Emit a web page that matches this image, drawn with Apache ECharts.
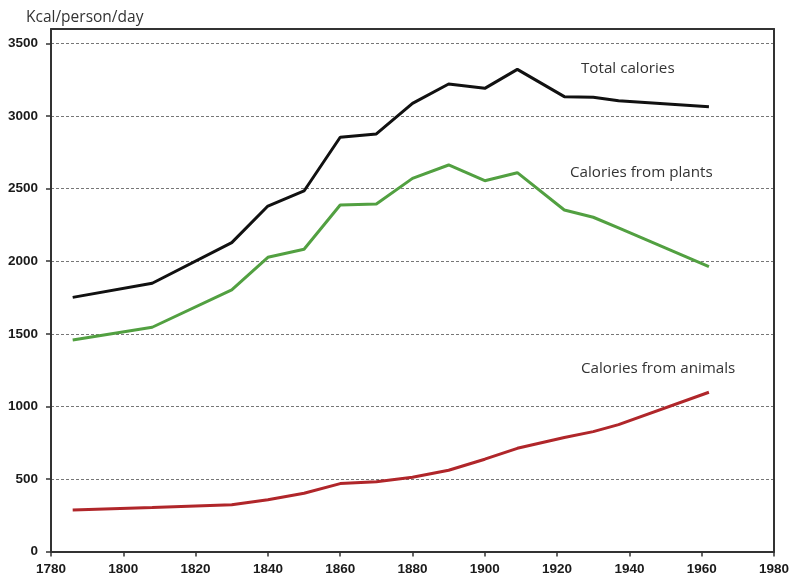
<!DOCTYPE html>
<html>
<head>
<meta charset="utf-8">
<script src="https://cdn.jsdelivr.net/npm/echarts@6/dist/echarts.min.js"></script>
<style>
html,body{margin:0;padding:0;background:#fff;}
#chart{width:795px;height:578px;}
</style>
</head>
<body>
<div id="chart"></div>
<script>
const years   = [1786, 1808, 1830, 1840, 1850, 1860, 1870, 1880, 1890, 1900, 1909, 1922, 1930, 1937, 1962];
const total   = [1751, 1848, 2128, 2380, 2484, 2854, 2877, 3088, 3221, 3191, 3322, 3134, 3129, 3106, 3065];
const plants  = [1457, 1545, 1802, 2027, 2082, 2387, 2394, 2571, 2663, 2555, 2610, 2353, 2303, 2230, 1962];
const animals = [ 286,  303,  322,  356,  401,  468,  481,  511,  560,  636,  711,  785,  826,  874, 1097];
const seriesNames = ['Total calories', 'Calories from plants', 'Calories from animals'];
const yTitle = 'Kcal/person/day';

const pair = arr => years.map((y, i) => [y, arr[i]]);

const chart = echarts.init(document.getElementById('chart'), null, {renderer: 'canvas'});
const labelFont = {fontFamily: 'Liberation Sans, Arial, sans-serif', fontWeight: 'bold', fontSize: 13.5, color: '#1a1a1a'};
const textFont = 'Open Sans, sans-serif';
const plain = v => String(v);

chart.setOption({
  animation: false,
  backgroundColor: '#fff',
  title: {
    text: yTitle, left: 21, top: 5,
    textStyle: {fontFamily: textFont, fontSize: 15.5, fontWeight: 'normal', color: '#333'}
  },
  grid: {left: 51, right: 21, top: 29, bottom: 26.5, containLabel: false},
  xAxis: [{
    type: 'value', min: 1780, max: 1980, interval: 20,
    axisLine: {show: true, lineStyle: {color: '#333', width: 2}},
    axisTick: {show: true, length: 5, lineStyle: {color: '#333', width: 1.5}},
    axisLabel: Object.assign({margin: 11, formatter: plain}, labelFont),
    splitLine: {show: false}
  }, {
    type: 'value', position: 'top', min: 1780, max: 1980, z: 5,
    axisLine: {show: true, onZero: false, lineStyle: {color: '#333', width: 2}},
    axisTick: {show: false}, axisLabel: {show: false}, splitLine: {show: false}
  }],
  yAxis: [{
    type: 'value', min: 0, max: 3600, interval: 500,
    axisLine: {show: true, lineStyle: {color: '#333', width: 2}},
    axisTick: {show: true, length: 5, lineStyle: {color: '#333', width: 1.5}},
    axisLabel: Object.assign({margin: 13, showMaxLabel: false, formatter: plain}, labelFont),
    splitLine: {show: true, lineStyle: {color: '#777', width: 1, type: [3, 2]}}
  }, {
    type: 'value', position: 'right', min: 0, max: 3600, z: 5,
    axisLine: {show: true, onZero: false, lineStyle: {color: '#333', width: 2}},
    axisTick: {show: false}, axisLabel: {show: false}, splitLine: {show: false}
  }],
  series: [{
    name: seriesNames[0], type: 'line', data: pair(total), showSymbol: false,
    lineStyle: {color: '#111', width: 3}, z: 3
  }, {
    name: seriesNames[1], type: 'line', data: pair(plants), showSymbol: false,
    lineStyle: {color: '#52a041', width: 3}, z: 3
  }, {
    name: seriesNames[2], type: 'line', data: pair(animals), showSymbol: false,
    lineStyle: {color: '#b0262a', width: 3}, z: 3
  }],
  graphic: [
    {type: 'text', left: 581, top: 61, style: {text: seriesNames[0], font: '15.2px ' + textFont, fill: '#333'}},
    {type: 'text', left: 570, top: 165, style: {text: seriesNames[1], font: '15.2px ' + textFont, fill: '#333'}},
    {type: 'text', left: 581, top: 361, style: {text: seriesNames[2], font: '15.2px ' + textFont, fill: '#333'}}
  ]
});
</script>
</body>
</html>
